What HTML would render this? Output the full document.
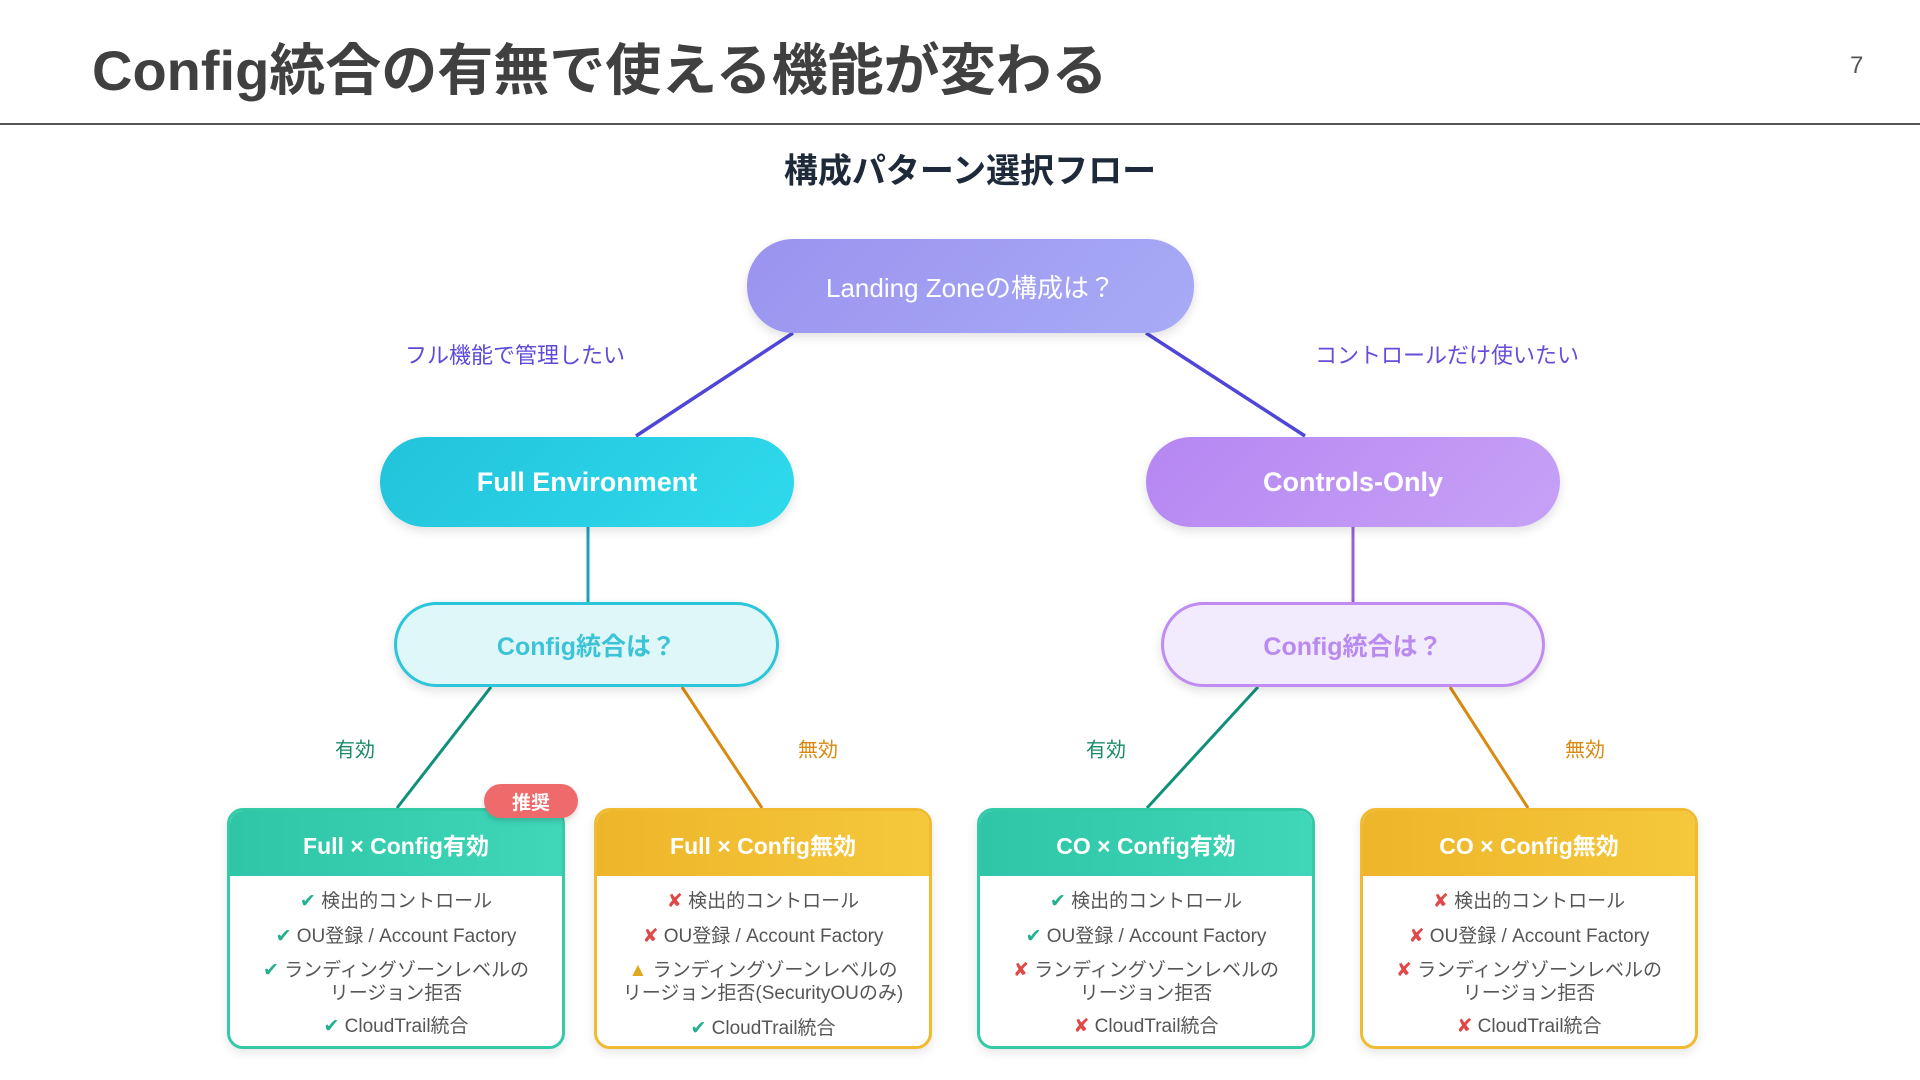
<!DOCTYPE html>
<html><head><meta charset="utf-8"><style>
*{margin:0;padding:0;box-sizing:border-box}
body{width:1920px;height:1080px;background:#fff;position:relative;overflow:hidden;font-family:"Liberation Sans","Noto Sans CJK JP",sans-serif}
.a{position:absolute}
.pill{position:absolute;display:flex;align-items:center;justify-content:center;color:#fff;font-weight:bold;border-radius:46px;box-shadow:0 4px 10px rgba(0,0,0,0.12)}
.lbl{position:absolute;transform:translate(-50%,-50%);white-space:nowrap}
.box{position:absolute;top:808px;width:338px;height:241px;border:3px solid;border-radius:16px;background:#fff;overflow:hidden;box-shadow:0 4px 10px rgba(0,0,0,0.1)}
.hd{height:65px;display:flex;align-items:center;justify-content:center;color:#fff;font-weight:bold;font-size:23px}
.it{position:absolute;left:0;width:100%;text-align:center;font-size:19px;color:#555;line-height:23px}
.ok{color:#22b08e}.ng{color:#e04848}.wr{color:#e0a820}
</style></head><body>
<div class="a" style="left:92px;top:31px;font-size:56px;font-weight:bold;color:#404040;line-height:80px">Config統合の有無で使える機能が変わる</div>
<div class="a" style="left:1850px;top:52px;font-size:24px;color:#555">7</div>
<div class="a" style="left:0;top:123px;width:1920px;height:2px;background:#555"></div>
<div class="lbl" style="left:970px;top:168px;font-size:34px;font-weight:bold;color:#1e2a3a">構成パターン選択フロー</div>

<svg class="a" style="left:0;top:0" width="1920" height="1080">
<line x1="793" y1="333" x2="636" y2="436" stroke="#4f46d8" stroke-width="3.5"/>
<line x1="1146" y1="333" x2="1305" y2="436" stroke="#4f46d8" stroke-width="3.5"/>
<line x1="588" y1="527" x2="588" y2="602" stroke="#1aa3b8" stroke-width="3"/>
<line x1="1353" y1="527" x2="1353" y2="602" stroke="#9b5fd8" stroke-width="3"/>
<line x1="491" y1="687" x2="397" y2="808" stroke="#10907a" stroke-width="3"/>
<line x1="682" y1="687" x2="762" y2="808" stroke="#d98a10" stroke-width="3"/>
<line x1="1258" y1="687" x2="1147" y2="808" stroke="#10907a" stroke-width="3"/>
<line x1="1450" y1="687" x2="1528" y2="808" stroke="#d98a10" stroke-width="3"/>
</svg>

<div class="pill" style="left:747px;top:239px;width:447px;height:94px;background:linear-gradient(135deg,#9a93ef,#a8abf6);font-size:26px;font-weight:normal">Landing Zoneの構成は？</div>
<div class="lbl" style="left:515px;top:354px;font-size:22px;color:#5b4bd8">フル機能で管理したい</div>
<div class="lbl" style="left:1447px;top:354px;font-size:22px;color:#6a4ad8">コントロールだけ使いたい</div>
<div class="pill" style="left:380px;top:437px;width:414px;height:90px;background:linear-gradient(135deg,#22c3db,#2fdaec);font-size:27px">Full Environment</div>
<div class="pill" style="left:1146px;top:437px;width:414px;height:90px;background:linear-gradient(135deg,#b586f2,#c7a2f6);font-size:27px">Controls-Only</div>
<div class="pill" style="left:394px;top:602px;width:385px;height:85px;background:#e0f7fa;border:3px solid #2cc6da;color:#3cc4d6;font-size:25px">Config統合は？</div>
<div class="pill" style="left:1161px;top:602px;width:384px;height:85px;background:#f2eafd;border:3px solid #c08cf2;color:#b98af0;font-size:25px">Config統合は？</div>

<div class="lbl" style="left:355px;top:748px;font-size:20px;color:#1a8a6a">有効</div>
<div class="lbl" style="left:818px;top:748px;font-size:20px;color:#d88a10">無効</div>
<div class="lbl" style="left:1106px;top:748px;font-size:20px;color:#1a8a6a">有効</div>
<div class="lbl" style="left:1585px;top:748px;font-size:20px;color:#d88a10">無効</div>

<div class="box" style="left:227px;border-color:#34caa8"><div class="hd" style="background:linear-gradient(90deg,#2ec6a6,#40d6b8)">Full × Config有効</div>
<div class="it" style="top:79px"><span class="ok">✔</span> 検出的コントロール</div>
<div class="it" style="top:114px"><span class="ok">✔</span> OU登録 / Account Factory</div>
<div class="it" style="top:148px"><span class="ok">✔</span> ランディングゾーンレベルの<br>リージョン拒否</div>
<div class="it" style="top:204px"><span class="ok">✔</span> CloudTrail統合</div></div>

<div class="box" style="left:594px;border-color:#f0bb30"><div class="hd" style="background:linear-gradient(90deg,#eeb52a,#f5c83c)">Full × Config無効</div>
<div class="it" style="top:79px"><span class="ng">✘</span> 検出的コントロール</div>
<div class="it" style="top:114px"><span class="ng">✘</span> OU登録 / Account Factory</div>
<div class="it" style="top:148px"><span class="wr">▲</span> ランディングゾーンレベルの<br>リージョン拒否(SecurityOUのみ)</div>
<div class="it" style="top:206px"><span class="ok">✔</span> CloudTrail統合</div></div>

<div class="box" style="left:977px;border-color:#34caa8"><div class="hd" style="background:linear-gradient(90deg,#2ec6a6,#40d6b8)">CO × Config有効</div>
<div class="it" style="top:79px"><span class="ok">✔</span> 検出的コントロール</div>
<div class="it" style="top:114px"><span class="ok">✔</span> OU登録 / Account Factory</div>
<div class="it" style="top:148px"><span class="ng">✘</span> ランディングゾーンレベルの<br>リージョン拒否</div>
<div class="it" style="top:204px"><span class="ng">✘</span> CloudTrail統合</div></div>

<div class="box" style="left:1360px;border-color:#f0bb30"><div class="hd" style="background:linear-gradient(90deg,#eeb52a,#f5c83c)">CO × Config無効</div>
<div class="it" style="top:79px"><span class="ng">✘</span> 検出的コントロール</div>
<div class="it" style="top:114px"><span class="ng">✘</span> OU登録 / Account Factory</div>
<div class="it" style="top:148px"><span class="ng">✘</span> ランディングゾーンレベルの<br>リージョン拒否</div>
<div class="it" style="top:204px"><span class="ng">✘</span> CloudTrail統合</div></div>

<div class="a" style="left:484px;top:784px;width:94px;height:34px;border-radius:17px;background:#ef6b6b;color:#fff;font-weight:bold;font-size:19px;display:flex;align-items:center;justify-content:center;box-shadow:0 3px 6px rgba(0,0,0,0.15)">推奨</div>
</body></html>
